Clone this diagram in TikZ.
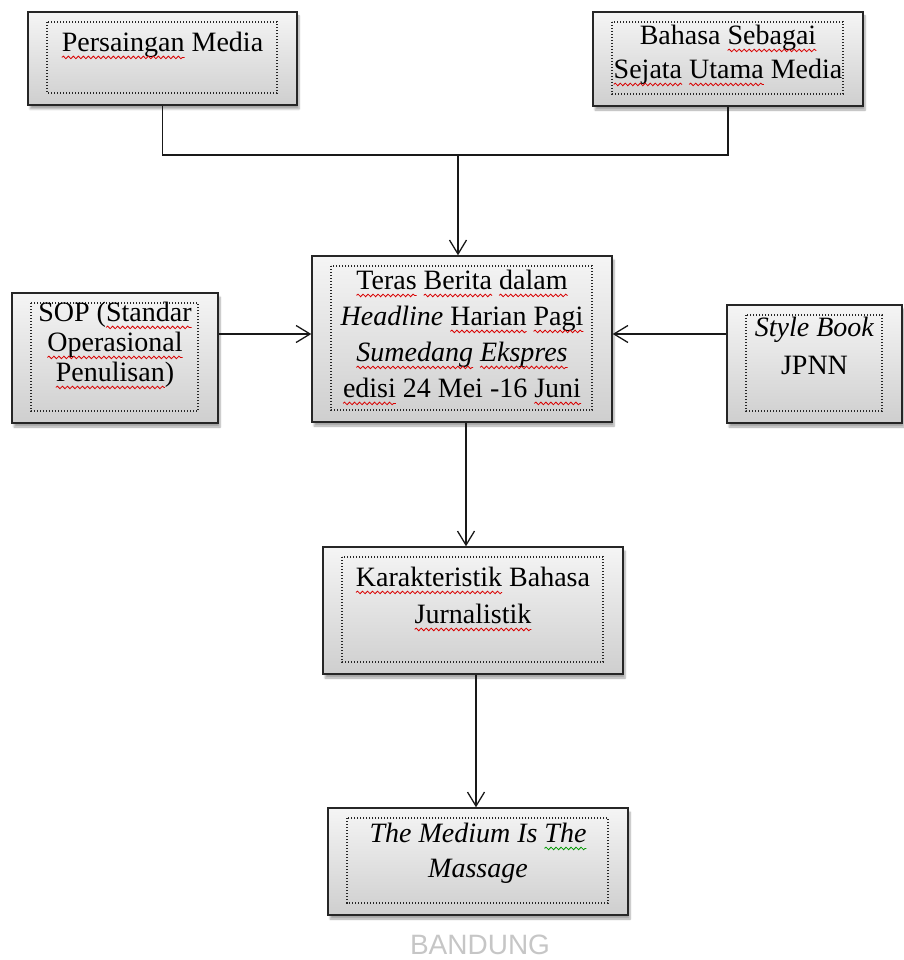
\documentclass[tikz,border=0pt]{standalone}
\usepackage{fontspec}
\setmainfont{Liberation Serif}
\newfontfamily\wmfont{Liberation Sans}
\usetikzlibrary{positioning,arrows.meta,shadows.blur,decorations.pathmorphing}

% spell-check waves under words
\newcommand\sq[2][red!85!black]{\tikz[baseline=(w.base)]{\node[inner sep=0pt, outer sep=0pt] (w) {#2};
  \draw[overlay, #1, line width=0.8pt, decorate, decoration={snake, amplitude=1.3pt, segment length=5pt}]
    ([yshift=-5.5pt]w.base west) -- ([yshift=-5.5pt]w.base east);}}

\tikzset{
  box/.style={draw=black!85, line width=1.4pt, top color=gray!8, bottom color=gray!38, inner sep=0pt,
    blur shadow={shadow xshift=2pt, shadow yshift=-4pt, shadow blur steps=6, shadow opacity=35},
    path picture={\draw[line width=1.4pt, dash pattern=on 1.3pt off 1.7pt, black!85]
      ([shift={(19pt,-10pt)}]path picture bounding box.north west) rectangle
      ([shift={(-20pt,12pt)}]path picture bounding box.south east);}},
  txt/.style={align=center, inner sep=0pt, font=\fontsize{28}{36}\selectfont},
  line/.style={line width=1.3pt, black!90},
  arr/.style={line, -{Straight Barb[length=14pt,width=17pt,line width=1.3pt]}}
}

\begin{document}
\begin{tikzpicture}[x=1pt,y=-1pt]
\useasboundingbox (0,0) rectangle (903,960);

% boxes
\node[box, minimum width=269pt, minimum height=93pt] (pm) at (162.5,58.5) {};
\node[box, minimum width=270pt, minimum height=94pt] (bs) at (728,59) {};
\node[box, minimum width=206pt, minimum height=130pt] (sop) at (115,358) {};
\node[box, minimum width=300pt, minimum height=166pt] (tb) at (462,339) {};
\node[box, minimum width=175pt, minimum height=118pt] (sb) at (814.5,364) {};
\node[box, minimum width=300pt, minimum height=127pt] (kb) at (473,610.5) {};
\node[box, minimum width=300pt, minimum height=107pt] (mm) at (478,861.5) {};

% texts
\node[txt, below=21pt of pm.north] (pmt) {\sq{Persaingan} Media};
\node[txt, below=14pt of bs.north, font=\fontsize{28}{34}\selectfont] (bst)
  {Bahasa \sq{Sebagai}\\ \sq{Sejata} \sq{Utama} Media};
\node[txt, below=10pt of sop.north, font=\fontsize{28}{30}\selectfont] (sopt)
  {SOP (\sq{Standar}\\ \sq{Operasional}\\ \sq{Penulisan})};
\node[txt, below=15pt of tb.north] (tbt)
  {\sq{Teras} \sq{Berita} \sq{dalam}\\ \emph{Headline} \sq{Harian} \sq{Pagi}\\
   \sq{\emph{Sumedang}} \sq{\emph{Ekspres}}\\ \sq{edisi} 24 Mei -16 \sq{Juni}};
\node[txt, below=13pt of sb.north, font=\fontsize{28}{38}\selectfont] (sbt)
  {\emph{Style Book}\\ JPNN};
\node[txt, below=21pt of kb.north, font=\fontsize{28}{37}\selectfont] (kbt)
  {\sq{Karakteristik} Bahasa\\ \sq{Jurnalistik}};
\node[txt, below=16pt of mm.north, font=\fontsize{28}{35}\selectfont] (mmt)
  {\emph{The Medium Is} \sq[green!60!black]{\emph{The}}\\ \emph{Massage}};

\node[font=\wmfont\fontsize{28}{30}\selectfont, text=gray!45, inner sep=0pt] (wm) at (480,945) {BANDUNG};

% connectors
\coordinate (j) at (458,155);
\coordinate (lin) at ([yshift=5pt]tb.west);
\coordinate (rin) at ([yshift=5pt]tb.east);
\draw[line] (pm.south) |- (bs.south |- j) -- (bs.south);
\draw[arr] (j) -- (j |- tb.north);
\draw[arr] (sop.east |- lin) -- (lin);
\draw[arr] (sb.west |- rin) -- (rin);
\draw[arr] ([xshift=4pt]tb.south) -- ([xshift=4pt]tb.south |- kb.north);
\draw[arr] ([xshift=3pt]kb.south) -- ([xshift=3pt]kb.south |- mm.north);
\end{tikzpicture}
\end{document}
